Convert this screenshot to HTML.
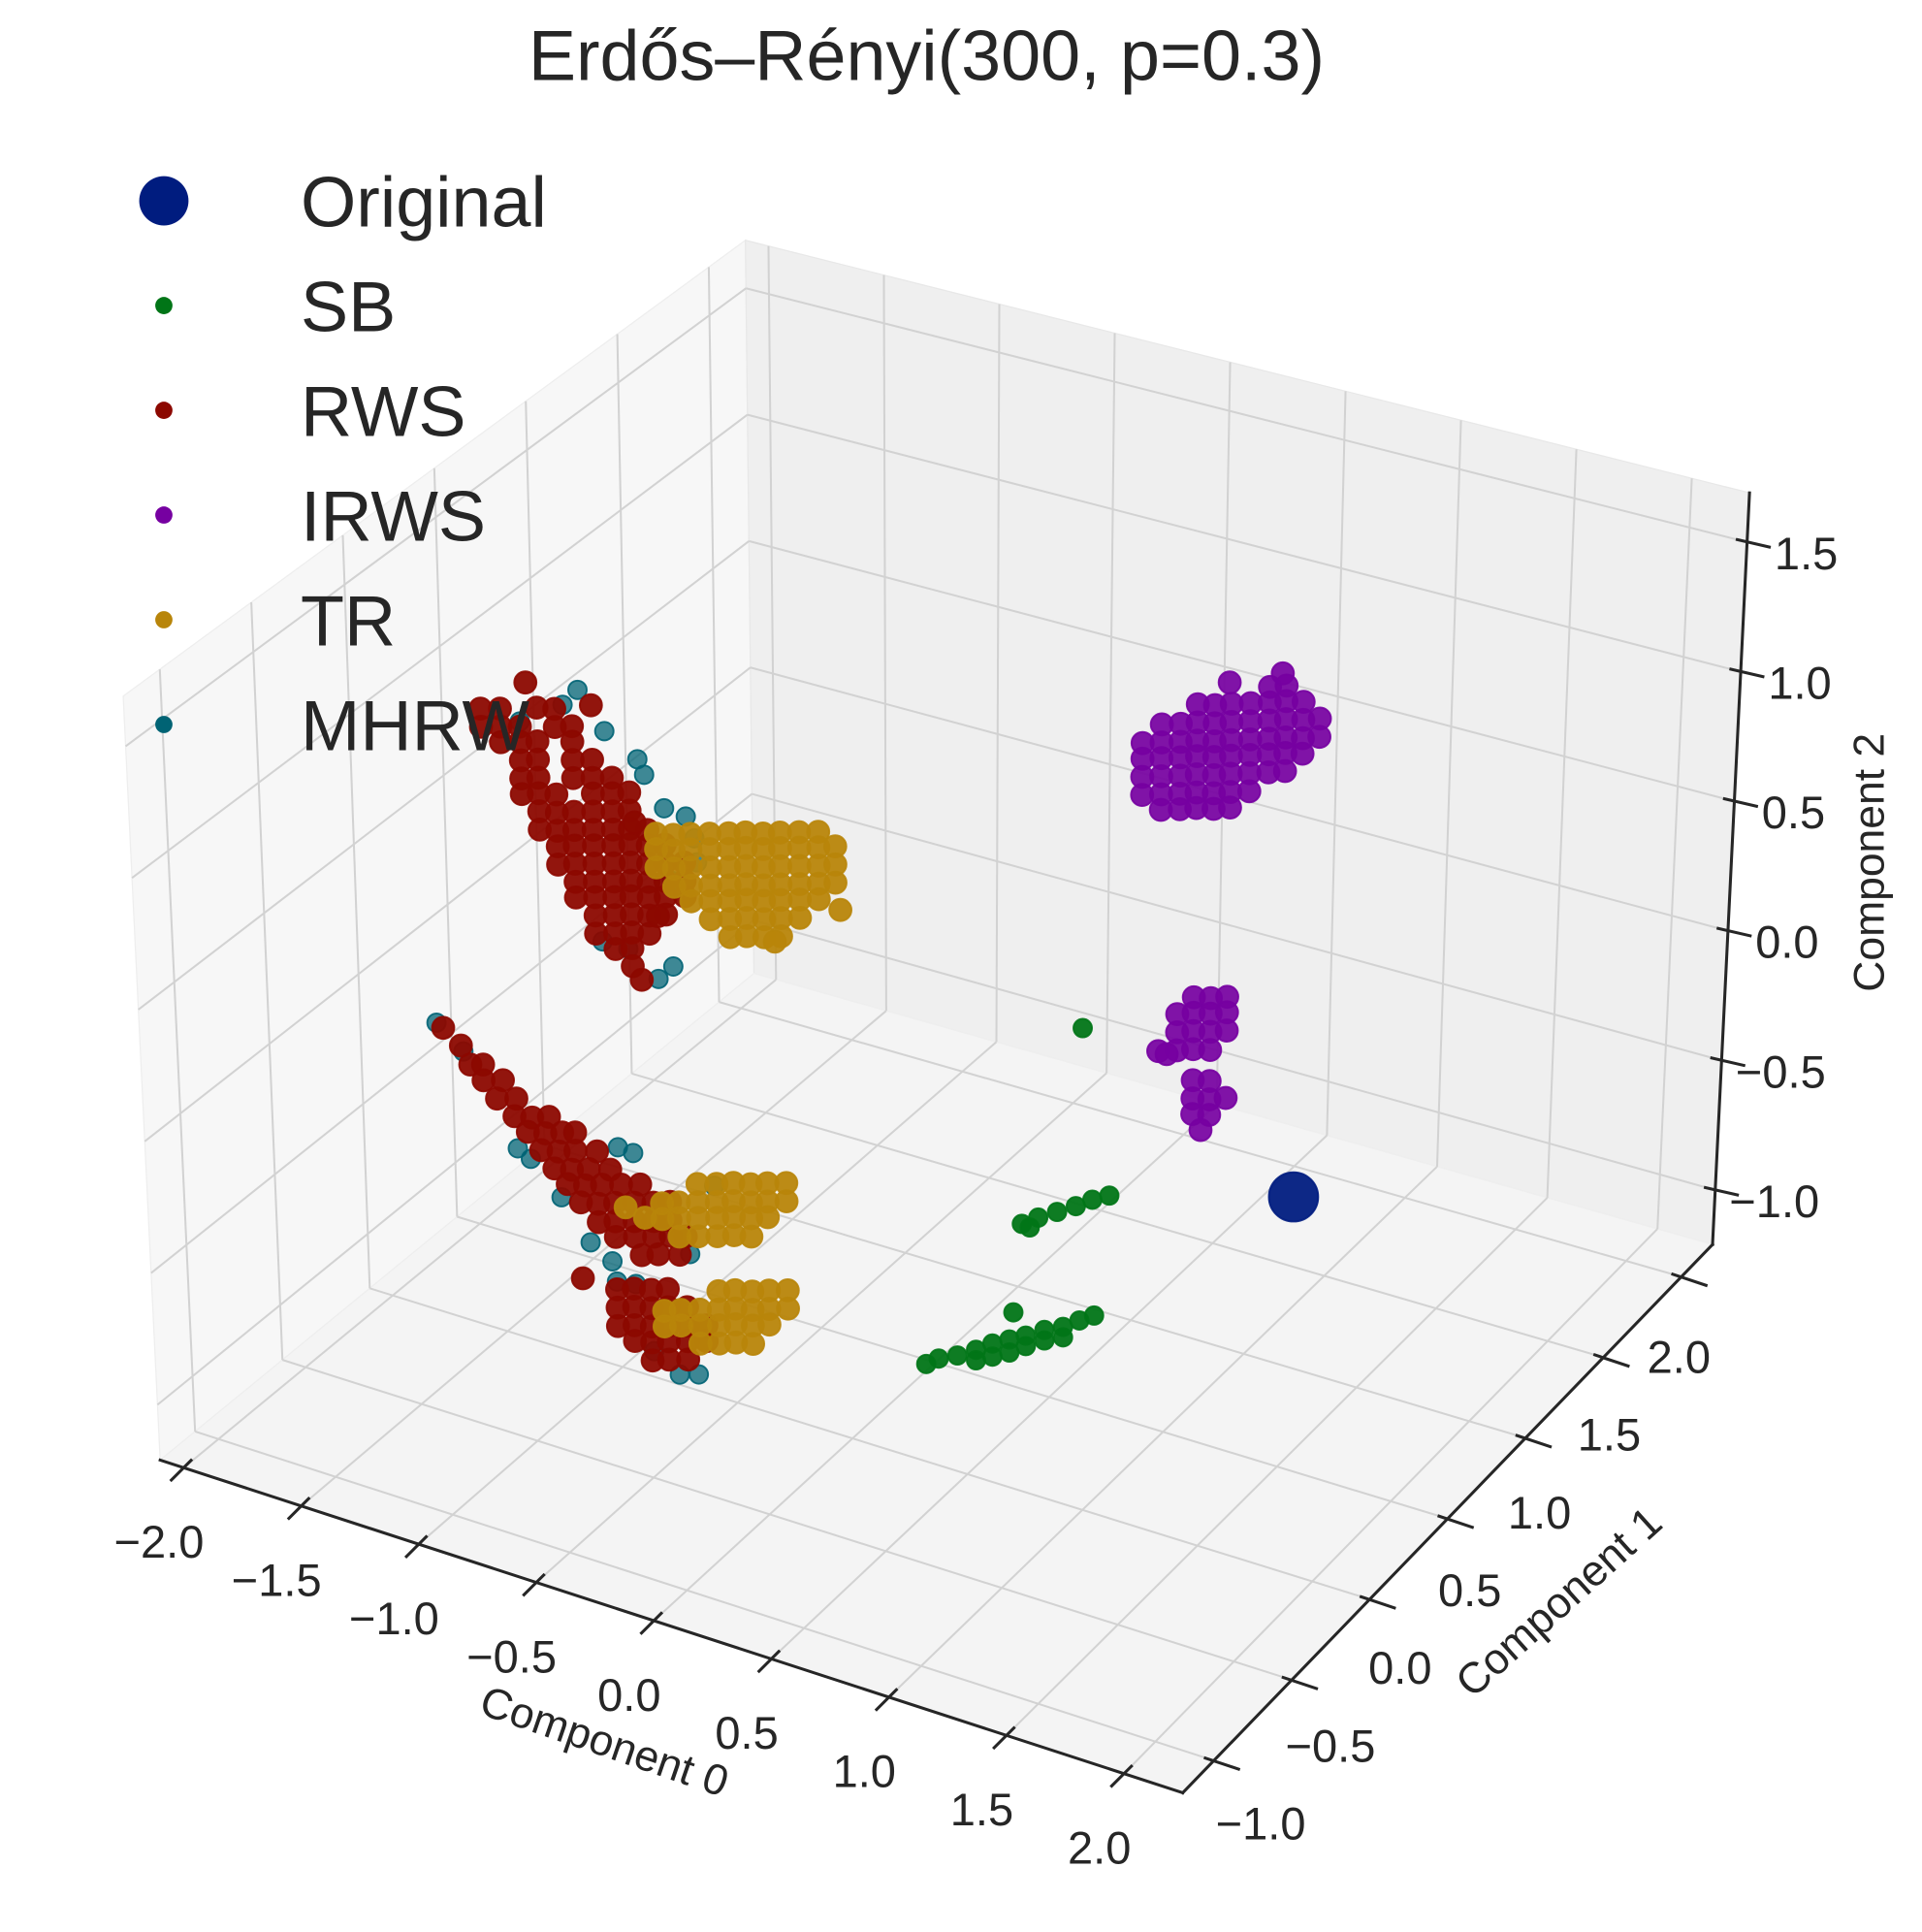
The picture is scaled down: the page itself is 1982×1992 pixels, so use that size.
<!DOCTYPE html>
<html><head><meta charset="utf-8"><style>
html,body{margin:0;padding:0;background:#fff;}
svg{display:block;font-family:"Liberation Sans",Arial,sans-serif;}
</style></head><body>
<svg id="chart" width="1982" height="1992" viewBox="0 0 1560 1568" preserveAspectRatio="none" xmlns="http://www.w3.org/2000/svg">
<rect x="0" y="0" width="1560" height="1568" fill="#ffffff"/>
<g id="panes"></g>
<g id="grid"></g>
<g id="axes"></g>
<g id="points"></g>
<text x="752" y="65" font-size="58" text-anchor="middle" fill="#262626">Erdős–Rényi(300, p=0.3)</text>
<g id="legend"></g>
<text x="490" y="1425" font-size="35" text-anchor="middle" fill="#262626" transform="rotate(19 490 1415)">Component 0</text>
<text x="1265" y="1312" font-size="35" text-anchor="middle" fill="#262626" transform="rotate(-42 1265 1300)">Component 1</text>
<text x="1517" y="712" font-size="35" text-anchor="middle" fill="#262626" transform="rotate(-90 1517 700)">Component 2</text>
</svg>
<script>
const xlim=[-2.1,2.25], ylim=[-1.2,2.2], zlim=[-1.21,1.69];
const xTicks=[-2.0,-1.5,-1.0,-0.5,0.0,0.5,1.0,1.5,2.0];
const yTicks=[-1.0,-0.5,0.0,0.5,1.0,1.5,2.0];
const zTicks=[-1.0,-0.5,0.0,0.5,1.0,1.5];
const xTickLabels=["−2.0","−1.5","−1.0","−0.5","0.0","0.5","1.0","1.5","2.0"];
const yTickLabels=["−1.0","−0.5","0.0","0.5","1.0","1.5","2.0"];
const zTickLabels=["−1.0","−0.5","0.0","0.5","1.0","1.5"];
const seriesNames=["Original","SB","RWS","IRWS","TR","MHRW"];
const seriesColors=["#001c7f","#017517","#8c0800","#7600a1","#b8850a","#006374"];

const originalPts=[[1.25,0.94,-0.51]];
const sbPts=[[0.57,0.60,0.16],
[0.38,0.50,-0.58],[0.43,0.53,-0.56],[0.49,0.56,-0.54],[0.55,0.59,-0.52],[0.60,0.62,-0.50],[0.66,0.64,-0.48],[0.40,0.52,-0.60],
[0.07,0.35,-1.11],[0.11,0.37,-1.09],[0.17,0.40,-1.08],[0.23,0.43,-1.06],[0.28,0.46,-1.04],[0.34,0.48,-1.02],[0.39,0.51,-1.01],[0.45,0.54,-0.99],[0.51,0.57,-0.98],[0.56,0.60,-0.96],[0.61,0.62,-0.94],
[0.23,0.43,-1.10],[0.28,0.46,-1.09],[0.34,0.48,-1.07],[0.39,0.51,-1.05],[0.45,0.54,-1.03],[0.51,0.57,-1.02],[0.35,0.49,-0.92]];
const rwsPts=[
[-1.72,.23,1.00],[-1.66,.26,1.00],[-1.55,.32,1.00],[-1.49,.34,1.00],
[-1.72,.23,.93],[-1.66,.26,.93],[-1.60,.29,.93],[-1.49,.34,.93],[-1.44,.37,.93],
[-1.66,.26,.87],[-1.60,.29,.87],[-1.55,.32,.87],[-1.44,.37,.87],
[-1.60,.29,.80],[-1.55,.32,.80],[-1.44,.37,.80],[-1.38,.40,.80],
[-1.60,.29,.73],[-1.55,.32,.73],[-1.44,.37,.73],[-1.38,.40,.73],[-1.32,.43,.73],
[-1.60,.29,.67],[-1.55,.32,.67],[-1.49,.34,.67],[-1.38,.40,.67],[-1.32,.43,.67],[-1.27,.46,.67],
[-1.55,.32,.60],[-1.49,.34,.60],[-1.44,.37,.60],[-1.38,.40,.60],[-1.32,.43,.60],[-1.27,.46,.60],
[-1.55,.32,.53],[-1.49,.34,.53],[-1.44,.37,.53],[-1.38,.40,.53],[-1.32,.43,.53],[-1.27,.46,.53],[-1.21,.48,.53],
[-1.49,.34,.47],[-1.44,.37,.47],[-1.38,.40,.47],[-1.32,.43,.47],[-1.27,.46,.47],[-1.21,.48,.47],[-1.16,.51,.47],
[-1.49,.34,.40],[-1.44,.37,.40],[-1.38,.40,.40],[-1.32,.43,.40],[-1.27,.46,.40],[-1.21,.48,.40],[-1.16,.51,.40],[-1.10,.54,.40],
[-1.44,.37,.33],[-1.38,.40,.33],[-1.32,.43,.33],[-1.27,.46,.33],[-1.21,.48,.33],[-1.16,.51,.33],[-1.10,.54,.33],
[-1.44,.37,.27],[-1.38,.40,.27],[-1.32,.43,.27],[-1.27,.46,.27],[-1.21,.48,.27],[-1.16,.51,.27],[-1.10,.54,.27],
[-1.38,.40,.20],[-1.32,.43,.20],[-1.27,.46,.20],[-1.21,.48,.20],[-1.16,.51,.20],
[-1.38,.40,.13],[-1.32,.43,.13],[-1.27,.46,.13],[-1.21,.48,.13],
[-1.32,.43,.07],[-1.27,.46,.07],[-1.27,.46,.00],
[-1.58,.30,1.10],[-1.38,.40,1.01],[-1.25,.46,.56],[-1.24,.47,-.05],[-1.18,.49,.20],
[-1.43,-.40,.19],[-1.38,-.37,.12],[-1.35,-.36,.05],[-1.31,-.34,.05],[-1.31,-.34,-.01],[-1.25,-.31,-.01],
[-1.27,-.32,-.08],[-1.21,-.29,-.08],[-1.22,-.29,-.15],[-1.16,-.27,-.15],[-1.11,-.24,-.15],
[-1.18,-.27,-.21],[-1.12,-.25,-.21],[-1.07,-.22,-.21],[-1.03,-.20,-.21],
[-1.14,-.25,-.28],[-1.08,-.23,-.28],[-1.03,-.20,-.28],[-.96,-.17,-.28],
[-1.10,-.23,-.35],[-1.04,-.21,-.35],[-.99,-.18,-.35],[-.92,-.15,-.35],
[-1.06,-.21,-.41],[-1.00,-.19,-.41],[-.95,-.16,-.41],[-.89,-.13,-.41],[-.83,-.10,-.41],
[-1.02,-.19,-.48],[-.96,-.17,-.48],[-.91,-.14,-.48],[-.85,-.11,-.48],[-.79,-.08,-.48],[-.74,-.05,-.48],
[-.96,-.17,-.55],[-.91,-.14,-.55],[-.85,-.11,-.55],[-.79,-.08,-.55],[-.74,-.05,-.55],
[-.91,-.14,-.61],[-.85,-.11,-.61],[-.79,-.08,-.61],[-.74,-.05,-.61],[-.69,-.03,-.61],
[-.83,-.10,-.68],[-.78,-.07,-.68],[-.71,-.04,-.68],
[-.91,-.14,-.81],[-.86,-.11,-.81],[-.80,-.09,-.81],[-.75,-.06,-.81],
[-.91,-.14,-.88],[-.86,-.11,-.88],[-.80,-.09,-.88],[-.75,-.06,-.88],[-.69,-.03,-.88],
[-.91,-.14,-.95],[-.86,-.11,-.95],[-.80,-.09,-.95],[-.75,-.06,-.95],[-.69,-.03,-.95],[-.63,.00,-.95],
[-.86,-.11,-1.01],[-.80,-.09,-1.01],[-.75,-.06,-1.01],[-.69,-.03,-1.01],[-.63,.00,-1.01],
[-.80,-.09,-1.08],[-.75,-.06,-1.08],[-.69,-.03,-1.08],[-1.02,-.19,-.77]];
const irwsPts=[
[.74,1.46,1.02],[.79,1.49,1.02],
[.51,1.35,.96],[.57,1.37,.96],[.62,1.40,.96],[.68,1.43,.96],[.74,1.46,.96],[.79,1.49,.96],[.85,1.51,.96],
[.40,1.29,.89],[.46,1.32,.89],[.51,1.35,.89],[.57,1.37,.89],[.62,1.40,.89],[.68,1.43,.89],[.74,1.46,.89],[.79,1.49,.89],[.85,1.51,.89],[.90,1.54,.89],
[.34,1.26,.82],[.40,1.29,.82],[.46,1.32,.82],[.51,1.35,.82],[.57,1.37,.82],[.62,1.40,.82],[.68,1.43,.82],[.74,1.46,.82],[.79,1.49,.82],[.85,1.51,.82],[.90,1.54,.82],
[.34,1.26,.76],[.40,1.29,.76],[.46,1.32,.76],[.51,1.35,.76],[.57,1.37,.76],[.62,1.40,.76],[.68,1.43,.76],[.74,1.46,.76],[.79,1.49,.76],[.85,1.51,.76],
[.34,1.26,.69],[.40,1.29,.69],[.46,1.32,.69],[.51,1.35,.69],[.57,1.37,.69],[.62,1.40,.69],[.68,1.43,.69],[.74,1.46,.69],[.79,1.49,.69],
[.34,1.26,.62],[.40,1.29,.62],[.46,1.32,.62],[.51,1.35,.62],[.57,1.37,.62],[.62,1.40,.62],[.68,1.43,.62],
[.40,1.29,.56],[.46,1.32,.56],[.51,1.35,.56],[.57,1.37,.56],[.62,1.40,.56],
[.61,1.40,1.04],[.78,1.48,1.07],
[.51,1.35,-.17],[.57,1.37,-.17],[.62,1.40,-.17],
[.46,1.32,-.23],[.51,1.35,-.23],[.57,1.37,-.23],[.62,1.40,-.23],
[.46,1.32,-.30],[.51,1.35,-.30],[.57,1.37,-.30],[.62,1.40,-.30],
[.40,1.29,-.37],[.46,1.32,-.37],[.51,1.35,-.37],[.57,1.37,-.37],[.43,1.30,-.38],
[.51,1.35,-.49],[.57,1.37,-.49],[.51,1.35,-.56],[.57,1.37,-.56],[.62,1.40,-.56],
[.51,1.35,-.62],[.57,1.37,-.62],[.54,1.36,-.68]];
const trPts=[
[-1.19,.50,.51],[-1.13,.52,.51],[-1.08,.55,.51],[-1.02,.58,.51],[-.96,.61,.51],[-.91,.64,.51],[-.85,.66,.51],[-.80,.69,.51],[-.74,.72,.51],[-.68,.75,.51],
[-1.19,.50,.45],[-1.13,.52,.45],[-1.08,.55,.45],[-1.02,.58,.45],[-.96,.61,.45],[-.91,.64,.45],[-.85,.66,.45],[-.80,.69,.45],[-.74,.72,.45],[-.68,.75,.45],[-.63,.78,.45],
[-1.19,.50,.38],[-1.13,.52,.38],[-1.08,.55,.38],[-1.02,.58,.38],[-.96,.61,.38],[-.91,.64,.38],[-.85,.66,.38],[-.80,.69,.38],[-.74,.72,.38],[-.68,.75,.38],[-.63,.78,.38],
[-1.13,.52,.31],[-1.08,.55,.31],[-1.02,.58,.31],[-.96,.61,.31],[-.91,.64,.31],[-.85,.66,.31],[-.80,.69,.31],[-.74,.72,.31],[-.68,.75,.31],[-.63,.78,.31],
[-1.08,.55,.25],[-1.02,.58,.25],[-.96,.61,.25],[-.91,.64,.25],[-.85,.66,.25],[-.80,.69,.25],[-.74,.72,.25],[-.68,.75,.25],
[-1.02,.58,.18],[-.96,.61,.18],[-.91,.64,.18],[-.85,.66,.18],[-.80,.69,.18],[-.74,.72,.18],
[-.96,.61,.11],[-.91,.64,.11],[-.85,.66,.11],[-.80,.69,.11],
[-.61,.78,.21],[-.82,.68,.09],
[-.65,-.01,-.41],[-.59,.02,-.41],[-.54,.05,-.41],[-.48,.07,-.41],[-.43,.10,-.41],[-.37,.13,-.41],
[-.76,-.07,-.48],[-.71,-.04,-.48],[-.65,-.01,-.48],[-.59,.02,-.48],[-.54,.05,-.48],[-.48,.07,-.48],[-.43,.10,-.48],[-.37,.13,-.48],
[-.82,-.09,-.54],[-.76,-.07,-.54],[-.71,-.04,-.54],[-.65,-.01,-.54],[-.59,.02,-.54],[-.54,.05,-.54],[-.48,.07,-.54],[-.43,.10,-.54],
[-.71,-.04,-.61],[-.65,-.01,-.61],[-.59,.02,-.61],[-.54,.05,-.61],[-.48,.07,-.61],[-.88,-.12,-.50],
[-.59,.02,-.82],[-.54,.05,-.82],[-.48,.07,-.82],[-.43,.10,-.82],[-.37,.13,-.82],
[-.76,-.07,-.89],[-.71,-.04,-.89],[-.65,-.01,-.89],[-.59,.02,-.89],[-.54,.05,-.89],[-.48,.07,-.89],[-.43,.10,-.89],[-.37,.13,-.89],
[-.76,-.07,-.95],[-.71,-.04,-.95],[-.65,-.01,-.95],[-.59,.02,-.95],[-.54,.05,-.95],[-.48,.07,-.95],[-.43,.10,-.95],
[-.65,-.01,-1.02],[-.59,.02,-1.02],[-.54,.05,-1.02],[-.48,.07,-1.02]];
const mhrwPts=[
[-1.42,.38,1.07],[-1.47,.36,1.01],[-1.34,.42,.91],[-1.24,.47,.80],[-1.22,.48,.74],[-1.16,.51,.61],[-1.09,.54,.58],[-1.07,.56,.49],
[-1.14,.52,.00],[-1.19,.50,-.05],[-1.28,.45,.07],[-1.36,.41,.10],[-1.60,.29,.95],[-1.14,.52,.33],[-1.06,.56,.40],
[-1.45,-.41,.21],[-1.37,-.37,.10],[-1.21,-.29,-.27],[-1.17,-.27,-.31],[-1.08,-.22,-.46],[-.90,-.13,-.27],[-.85,-.11,-.29],
[-.99,-.18,-.63],[-.92,-.15,-.70],[-.91,-.14,-.78],[-.85,-.11,-.79],[-.72,-.04,-1.14],[-.66,-.01,-1.14],[-.60,.02,-.42],[-.68,-.02,-.68],[-.80,-.08,-1.05]];

const A=[130,1185],B=[960,1455],C=[1390,1010],D=[612,790],E=[100,565],F=[958,820],G=[1420,400],H=[605,195];
function P(x,y,z){
  const u=(x-xlim[0])/(xlim[1]-xlim[0]), v=(y-ylim[0])/(ylim[1]-ylim[0]), w=(z-zlim[0])/(zlim[1]-zlim[0]);
  const bl=(p00,p10,p11,p01,i)=>(1-u)*(1-v)*p00[i]+u*(1-v)*p10[i]+u*v*p11[i]+(1-u)*v*p01[i];
  const bx=bl(A,B,C,D,0), by=bl(A,B,C,D,1), tx=bl(E,F,G,H,0), ty=bl(E,F,G,H,1);
  return [(1-w)*bx+w*tx,(1-w)*by+w*ty];
}
const NS="http://www.w3.org/2000/svg";
function mk(tag,attrs,parent){const e=document.createElementNS(NS,tag);for(const k in attrs)e.setAttribute(k,attrs[k]);parent.appendChild(e);return e;}
function poly(pts){return pts.map(p=>p[0].toFixed(1)+","+p[1].toFixed(1)).join(" ");}

const panes=document.getElementById('panes');
let pe;
pe=mk('polygon',{points:poly([P(xlim[0],ylim[0],zlim[0]),P(xlim[0],ylim[1],zlim[0]),P(xlim[0],ylim[1],zlim[1]),P(xlim[0],ylim[0],zlim[1])]),fill:'#f7f7f7',stroke:'#eeeeee','stroke-width':1},panes);


pe=mk('polygon',{points:poly([P(xlim[0],ylim[1],zlim[0]),P(xlim[1],ylim[1],zlim[0]),P(xlim[1],ylim[1],zlim[1]),P(xlim[0],ylim[1],zlim[1])]),fill:'#efefef',stroke:'#e8e8e8','stroke-width':1},panes);


pe=mk('polygon',{points:poly([P(xlim[0],ylim[0],zlim[0]),P(xlim[1],ylim[0],zlim[0]),P(xlim[1],ylim[1],zlim[0]),P(xlim[0],ylim[1],zlim[0])]),fill:'#f4f4f4',stroke:'#eeeeee','stroke-width':1},panes);



const grid=document.getElementById('grid');
function gl(p,q,name){const l=mk('line',{x1:p[0],y1:p[1],x2:q[0],y2:q[1],stroke:'#d2d2d2','stroke-width':1.6},grid);

}
xTicks.forEach(v=>{gl(P(v,ylim[0],zlim[0]),P(v,ylim[1],zlim[0]),'x-gridline-floor');gl(P(v,ylim[1],zlim[0]),P(v,ylim[1],zlim[1]),'x-gridline-back');});
yTicks.forEach(v=>{gl(P(xlim[0],v,zlim[0]),P(xlim[1],v,zlim[0]),'y-gridline-floor');gl(P(xlim[0],v,zlim[0]),P(xlim[0],v,zlim[1]),'y-gridline-left');});
zTicks.forEach(v=>{gl(P(xlim[0],ylim[0],v),P(xlim[0],ylim[1],v),'z-gridline-left');gl(P(xlim[0],ylim[1],v),P(xlim[1],ylim[1],v),'z-gridline-back');});

const axes=document.getElementById('axes');
function al(p,q,name){const l=mk('line',{x1:p[0],y1:p[1],x2:q[0],y2:q[1],stroke:'#262626','stroke-width':2.4,'stroke-linecap':'square'},axes);

}
al(P(xlim[0],ylim[0],zlim[0]),P(xlim[1],ylim[0],zlim[0]),'x-axis-line');
al(P(xlim[1],ylim[0],zlim[0]),P(xlim[1],ylim[1],zlim[0]),'y-axis-line');
al(P(xlim[1],ylim[1],zlim[0]),P(xlim[1],ylim[1],zlim[1]),'z-axis-line');
function txt(x,y,s,name,anchor){const t=mk('text',{x:x,y:y,'font-size':37,'text-anchor':anchor||'middle',fill:'#262626'},axes);t.textContent=s;

}
xTicks.forEach((v,i)=>{const p=P(v,ylim[0],zlim[0]);
  al([p[0]+6,p[1]-6],[p[0]-10,p[1]+10],'x-tick');
  txt(p[0]-20,p[1]+73,xTickLabels[i],'x-tick-label');});
yTicks.forEach((v,i)=>{const p=P(xlim[1],v,zlim[0]);const t=(v-yTicks[0])/(yTicks[yTicks.length-1]-yTicks[0]);
  al([p[0]-7,p[1]-2],[p[0]+20,p[1]+7],'y-tick');
  txt(p[0]+38-40*t,p[1]+64+14*t,yTickLabels[i],'y-tick-label');});
zTicks.forEach((v,i)=>{const p=P(xlim[1],ylim[1],v);
  al([p[0]-8,p[1]-2],[p[0]+18,p[1]+4],'z-tick');
  txt(p[0]+48,p[1]+22,zTickLabels[i],'z-tick-label');});

const pts=document.getElementById('points');
function drawSeries(arr,color,r,name,op){
  const g=mk('g',{},pts);
  
  
  arr.forEach(d=>{const p=P(d[0],d[1],d[2]);
    const c=mk('circle',{cx:p[0].toFixed(1),cy:p[1].toFixed(1),r:r,fill:color,'fill-opacity':op,stroke:color,'stroke-opacity':0.9,'stroke-width':1.5},g);
    
    });
}
drawSeries(mhrwPts,seriesColors[5],7.5,'mhrw',0.75);
drawSeries(rwsPts,seriesColors[2],9,'rws',0.95);
drawSeries(trPts,seriesColors[4],9,'tr',0.95);
drawSeries(sbPts,seriesColors[1],7.5,'sb',0.95);
drawSeries(irwsPts,seriesColors[3],9,'irws',0.92);
drawSeries(originalPts,seriesColors[0],20,'original',0.95);

const leg=document.getElementById('legend');
seriesNames.forEach((n,i)=>{const y=163+85*i;
  const c=mk('circle',{cx:133,cy:y,r:i===0?20:7,fill:seriesColors[i]},leg);
  
  
  const t=mk('text',{x:244,y:y+21,'font-size':58,fill:'#262626'},leg);t.textContent=n;
  
  });
</script>
</body></html>
